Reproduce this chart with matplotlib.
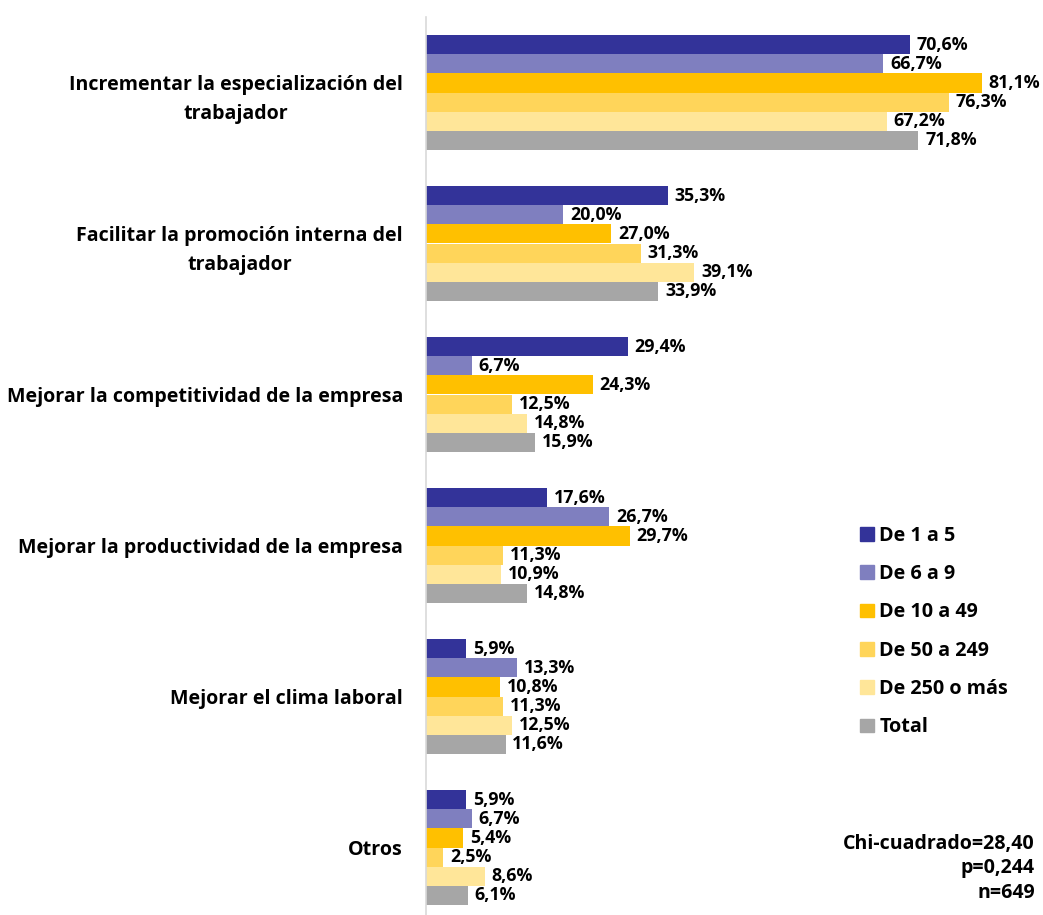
import numpy as np
import matplotlib.pyplot as plt
from matplotlib.patches import Patch

plt.rcParams['font.family'] = ['Open Sans', 'DejaVu Sans']
plt.rcParams['font.weight'] = 'bold'

categories = ["Incrementar la especialización del\ntrabajador",
              "Facilitar la promoción interna del\ntrabajador",
              "Mejorar la competitividad de la empresa",
              "Mejorar la productividad de la empresa",
              "Mejorar el clima laboral",
              "Otros"]
series_names = ["De 1 a 5", "De 6 a 9", "De 10 a 49", "De 50 a 249", "De 250 o más", "Total"]
de_1_5 = [70.6, 35.3, 29.4, 17.6, 5.9, 5.9]
de_6_9 = [66.7, 20.0, 6.7, 26.7, 13.3, 6.7]
de_10_49 = [81.1, 27.0, 24.3, 29.7, 10.8, 5.4]
de_50_249 = [76.3, 31.3, 12.5, 11.3, 11.3, 2.5]
de_250 = [67.2, 39.1, 14.8, 10.9, 12.5, 8.6]
total = [71.8, 33.9, 15.9, 14.8, 11.6, 6.1]
colors = ["#333399", "#7F7FBF", "#FFC000", "#FFD55A", "#FFE699", "#A6A6A6"]

series = [de_1_5, de_6_9, de_10_49, de_50_249, de_250, total]

fig = plt.figure(figsize=(10.43, 9.15), dpi=100)
ax = fig.add_axes([426 / 1043, 0, 1 - 426 / 1043, 898 / 915])

bar_h = 115 / 151 / 6
y = np.arange(len(categories))
for i, (vals, c) in enumerate(zip(series, colors)):
    pos = y - 0.5 + 18 / 151 + bar_h * (i + 0.5)
    ax.barh(pos, vals, height=bar_h, color=c, edgecolor='none')
    for p, v in zip(pos, vals):
        ax.text(v + 1.0, p, f"{v:.1f}%".replace('.', ','), va='center', ha='left',
                fontsize=12.8, fontweight='bold', color='black')

ax.set_xlim(0, 90)
ax.set_ylim(-0.5 + 898 / 151, -0.5)
ax.set_yticks(y)
ax.set_yticklabels(categories, fontsize=14.1, fontweight='bold', multialignment='center',
                   linespacing=1.58)
ax.tick_params(axis='y', length=0, pad=16.5)
ax.set_xticks([])
for s in ['top', 'right', 'bottom']:
    ax.spines[s].set_visible(False)
ax.spines['left'].set_color('#D9D9D9')
ax.spines['left'].set_linewidth(1.2)

handles = [Patch(color=c, label=n) for c, n in zip(colors, series_names)]
fig.legend(handles=handles, loc='upper left', bbox_to_anchor=(842 / 1043, 1 - 508 / 915),
           frameon=False, prop={'size': 14.2, 'weight': 'bold'}, handlelength=0.7,
           handleheight=0.7, handletextpad=0.3, labelspacing=0.93)

fig.text(1035 / 1043, 1 - 868 / 915, "Chi-cuadrado=28,40\np=0,244\nn=649", ha='right',
         va='center', fontsize=14.1, fontweight='bold', linespacing=1.3)

fig.savefig("out.png", dpi=100)
